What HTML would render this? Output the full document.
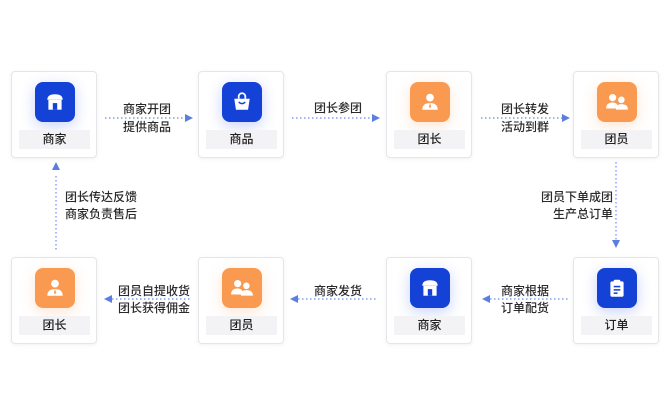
<!DOCTYPE html>
<html><head><meta charset="utf-8"><style>
*{margin:0;padding:0;box-sizing:border-box}
body{width:670px;height:420px;background:#fff;position:relative;overflow:hidden;font-family:"Liberation Sans","Noto Sans CJK SC",sans-serif}
.box{position:absolute;width:86px;height:87px;background:#fff;border:1px solid #e6e6ea;border-radius:4px;box-shadow:0 1px 5px rgba(0,0,0,0.06)}
.ic{position:absolute;left:23px;top:10px;width:40px;height:40px;border-radius:8px;display:flex;align-items:center;justify-content:center}
.b{background:#1442d6;box-shadow:0 4px 14px rgba(40,80,230,0.25)}
.o{background:#fa9a50;box-shadow:0 4px 14px rgba(250,150,80,0.25)}
.lb{position:absolute;left:7px;top:58px;width:71px;height:19px;background:#f3f3f5;font-size:12px;color:#222;text-align:center;line-height:19px;font-weight:500}
.t{position:absolute;font-size:12px;color:#2a2a2a;line-height:17px;white-space:nowrap;font-weight:500}
</style></head><body>
<svg width="670" height="420" style="position:absolute;left:0;top:0">
<g stroke="#6a8ae6" stroke-width="1.2" stroke-dasharray="1.5 2.5" fill="none">
<line x1="105" y1="118" x2="185" y2="118"/>
<line x1="292" y1="118" x2="372" y2="118"/>
<line x1="481" y1="118" x2="562" y2="118"/>
<line x1="616" y1="162" x2="616" y2="240"/>
<line x1="56" y1="176" x2="56" y2="250"/>
<line x1="112" y1="299" x2="190" y2="299"/>
<line x1="298" y1="299" x2="377" y2="299"/>
<line x1="490" y1="299" x2="568" y2="299"/>
</g>
<g fill="#5b7fe0">
<polygon points="185,114 193,118 185,122"/>
<polygon points="372,114 380,118 372,122"/>
<polygon points="562,114 570,118 562,122"/>
<polygon points="612,240 616,248 620,240"/>
<polygon points="52,170 56,162 60,170"/>
<polygon points="112,295 104,299 112,303"/>
<polygon points="298,295 290,299 298,303"/>
<polygon points="490,295 482,299 490,303"/>
</g>
</svg>

<div class="box" style="left:11px;top:71px"><div class="ic b"><svg width="22" height="22" viewBox="0 0 20 20"><path d="M3 8 Q3 3 10 3 Q17 3 17 8 Z" fill="#fff"/><rect x="4" y="8" width="12" height="9" fill="#fff"/><rect x="8" y="11" width="4" height="6" fill="#1442d6"/></svg></div><div class="lb">商家</div></div>
<div class="box" style="left:198px;top:71px"><div class="ic b"><svg width="22" height="22" viewBox="0 0 20 20"><path d="M7 7 V5 a3 3 0 0 1 6 0 V7" stroke="#fff" stroke-width="1.6" fill="none"/><path d="M3 7 H17 L15.5 17 H4.5 Z" fill="#fff"/><path d="M7 10 Q10 13 13 10" stroke="#1442d6" stroke-width="1.3" fill="none"/></svg></div><div class="lb">商品</div></div>
<div class="box" style="left:386px;top:71px"><div class="ic o"><svg width="22" height="22" viewBox="0 0 20 20"><circle cx="10" cy="6" r="3.5" fill="#fff"/><path d="M3 17 Q3 11 10 11 Q17 11 17 17 Z" fill="#fff"/><path d="M10 11 L9 14 L10 16 L11 14 Z" fill="#fa9a50"/></svg></div><div class="lb">团长</div></div>
<div class="box" style="left:573px;top:71px"><div class="ic o"><svg width="24" height="22" viewBox="0 0 22 20"><circle cx="7" cy="6" r="3.3" fill="#fff"/><path d="M1 16 Q1 10.5 7 10.5 Q12 10.5 12 16 Z" fill="#fff"/><circle cx="15" cy="8" r="3" fill="#fff"/><path d="M10 17 Q10 12 15 12 Q21 12 21 17 Z" fill="#fff"/></svg></div><div class="lb">团员</div></div>

<div class="box" style="left:11px;top:257px"><div class="ic o"><svg width="22" height="22" viewBox="0 0 20 20"><circle cx="10" cy="6" r="3.5" fill="#fff"/><path d="M3 17 Q3 11 10 11 Q17 11 17 17 Z" fill="#fff"/><path d="M10 11 L9 14 L10 16 L11 14 Z" fill="#fa9a50"/></svg></div><div class="lb">团长</div></div>
<div class="box" style="left:198px;top:257px"><div class="ic o"><svg width="24" height="22" viewBox="0 0 22 20"><circle cx="7" cy="6" r="3.3" fill="#fff"/><path d="M1 16 Q1 10.5 7 10.5 Q12 10.5 12 16 Z" fill="#fff"/><circle cx="15" cy="8" r="3" fill="#fff"/><path d="M10 17 Q10 12 15 12 Q21 12 21 17 Z" fill="#fff"/></svg></div><div class="lb">团员</div></div>
<div class="box" style="left:386px;top:257px"><div class="ic b"><svg width="22" height="22" viewBox="0 0 20 20"><path d="M3 8 Q3 3 10 3 Q17 3 17 8 Z" fill="#fff"/><rect x="4" y="8" width="12" height="9" fill="#fff"/><rect x="8" y="11" width="4" height="6" fill="#1442d6"/></svg></div><div class="lb">商家</div></div>
<div class="box" style="left:573px;top:257px"><div class="ic b"><svg width="22" height="22" viewBox="0 0 20 20"><rect x="4" y="4" width="12" height="14" rx="1.5" fill="#fff"/><rect x="7" y="2.5" width="6" height="3" rx="1" fill="#fff"/><rect x="7" y="8" width="6" height="1.4" fill="#1442d6"/><rect x="7" y="11" width="6" height="1.4" fill="#1442d6"/><rect x="7" y="14" width="3.5" height="1.4" fill="#1442d6"/></svg></div><div class="lb">订单</div></div>

<div class="t" style="left:123px;top:101px">商家开团</div>
<div class="t" style="left:123px;top:119px">提供商品</div>
<div class="t" style="left:314px;top:100px">团长参团</div>
<div class="t" style="left:501px;top:101px">团长转发</div>
<div class="t" style="left:501px;top:119px">活动到群</div>
<div class="t" style="left:541px;top:189px">团员下单成团</div>
<div class="t" style="left:553px;top:206px">生产总订单</div>
<div class="t" style="left:65px;top:189px">团长传达反馈</div>
<div class="t" style="left:65px;top:206px">商家负责售后</div>
<div class="t" style="left:118px;top:283px">团员自提收货</div>
<div class="t" style="left:118px;top:300px">团长获得佣金</div>
<div class="t" style="left:314px;top:283px">商家发货</div>
<div class="t" style="left:501px;top:283px">商家根据</div>
<div class="t" style="left:501px;top:300px">订单配货</div>
</body></html>
